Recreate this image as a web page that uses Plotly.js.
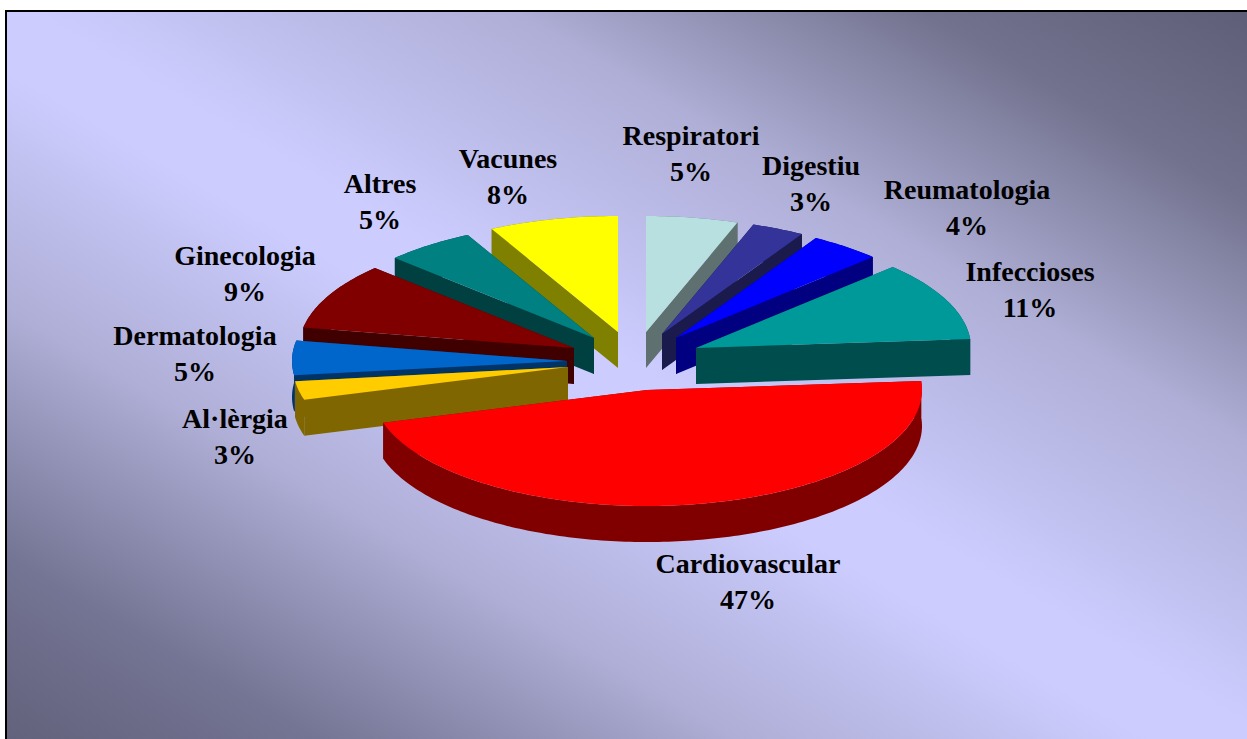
<!DOCTYPE html>
<html>
<head>
<meta charset="utf-8">
<script src="https://cdn.plot.ly/plotly-3.0.1.min.js"></script>
<style>
html,body{margin:0;padding:0;background:#fff;width:1247px;height:739px;overflow:hidden}
#frame{position:absolute;left:5px;top:10px;width:1242px;height:729px;box-sizing:border-box;
 border-left:2px solid #000;border-top:2px solid #000;
 background:linear-gradient(to top right,#62627c 0%,#747494 12.5%,#aeaed6 29.5%,#ccccff 46%,#ccccff 51%,#aeaed6 70.5%,#72728e 87%,#5e5e78 100%)}
#chart{position:absolute;left:0;top:0;width:1247px;height:739px}
</style>
</head>
<body>
<div id="frame"></div>
<div id="chart"></div>
<script>
// Data, clockwise from 12 o'clock
const categories = ['Respiratori','Digestiu','Reumatologia','Infeccioses','Cardiovascular','Al·lèrgia','Dermatologia','Ginecologia','Altres','Vacunes'];
const values = [5.4,3.1,4.2,11.1,46.7,2.6,4.8,9.3,5.3,7.6];
const percentLabels = ['5%','3%','4%','11%','47%','3%','5%','9%','5%','8%'];

// Style
const topColors = ['#b8e0e0','#333399','#0000ff','#009999','#ff0000','#ffcc00','#0066cc','#800000','#008080','#ffff00'];
const sideColors = ['#5e7070','#1a1a4d','#000080','#004d4d','#800000','#806600','#003366','#400000','#004040','#808000'];

// Exploded-pie projection parameters
const pieCentre = [632,355], radiusX = 275, radiusY = 116, depth = 36;
const explodeX = [14,30,44,64,15,-64,-65,-58,-38,-14];
const explodeY = [-23,-21,-17,-7,35,12,6,-7,-17,-23];
const paintOrder = [0,1,2,3,9,8,7,6,5,4];

// Label placement
const labelX = [691,811,967,1030,748,235,195,245,380,508];
const labelY = [138,168,192,274,566,421,338,258,186,161];
const labelGap = 36;

const total = values.reduce((a,b)=>a+b,0);
const rad = Math.PI/180;
let cum = 0;
const slices = values.map((v,i)=>{
  const a0 = cum/total*360; cum += v; const a1 = cum/total*360;
  const ax = pieCentre[0]+explodeX[i], ay = pieCentre[1]+explodeY[i];
  const arcX = [], arcY = [];
  const n = Math.max(2,Math.ceil(a1-a0));
  for(let k=0;k<=n;k++){
    const t = (a0+(a1-a0)*k/n)*rad;
    arcX.push(ax+radiusX*Math.sin(t)); arcY.push(ay-radiusY*Math.cos(t));
  }
  return {ax,ay,arcX,arcY};
});

const traces = [];
function face(xs,ys,color){
  traces.push({type:'scatter',mode:'none',x:xs,y:ys,fill:'toself',fillcolor:color,hoverinfo:'skip',showlegend:false});
}
paintOrder.forEach(i=>{
  const s = slices[i];
  const last = s.arcX.length-1;
  // extruded faces: two radial cuts and the outer rim
  face([s.ax,s.arcX[0],s.arcX[0],s.ax,s.ax],[s.ay,s.arcY[0],s.arcY[0]+depth,s.ay+depth,s.ay],sideColors[i]);
  face([s.ax,s.arcX[last],s.arcX[last],s.ax,s.ax],[s.ay,s.arcY[last],s.arcY[last]+depth,s.ay+depth,s.ay],sideColors[i]);
  face([...s.arcX,...s.arcX.slice().reverse(),s.arcX[0]],
       [...s.arcY,...s.arcY.slice().reverse().map(y=>y+depth),s.arcY[0]],sideColors[i]);
  traces.push({type:'scatter',mode:'none',
    x:[s.ax,...s.arcX,s.ax],y:[s.ay,...s.arcY,s.ay],fill:'toself',fillcolor:topColors[i],
    name:categories[i],text:categories[i]+': '+percentLabels[i],hoverinfo:'text',hoveron:'fills',showlegend:false});
});
const font = {family:'"Liberation Serif","Times New Roman",serif',size:28,color:'#000'};
traces.push({type:'scatter',mode:'text',x:labelX,y:labelY,text:categories.map(c=>'<b>'+c+'</b>'),
  textposition:'middle center',textfont:font,hoverinfo:'skip',showlegend:false});
traces.push({type:'scatter',mode:'text',x:labelX,y:labelY.map(y=>y+labelGap),text:percentLabels.map(c=>'<b>'+c+'</b>'),
  textposition:'middle center',textfont:font,hoverinfo:'skip',showlegend:false});

const hiddenAxis = {visible:false,showgrid:false,zeroline:false,fixedrange:true,autorange:false};
Plotly.newPlot('chart',traces,{
  width:1247,height:739,margin:{l:0,r:0,t:0,b:0,pad:0},
  paper_bgcolor:'rgba(0,0,0,0)',plot_bgcolor:'rgba(0,0,0,0)',showlegend:false,
  xaxis:{...hiddenAxis,range:[0,1247]},
  yaxis:{...hiddenAxis,range:[739,0]}
},{displayModeBar:false,staticPlot:true});
</script>
</body>
</html>
